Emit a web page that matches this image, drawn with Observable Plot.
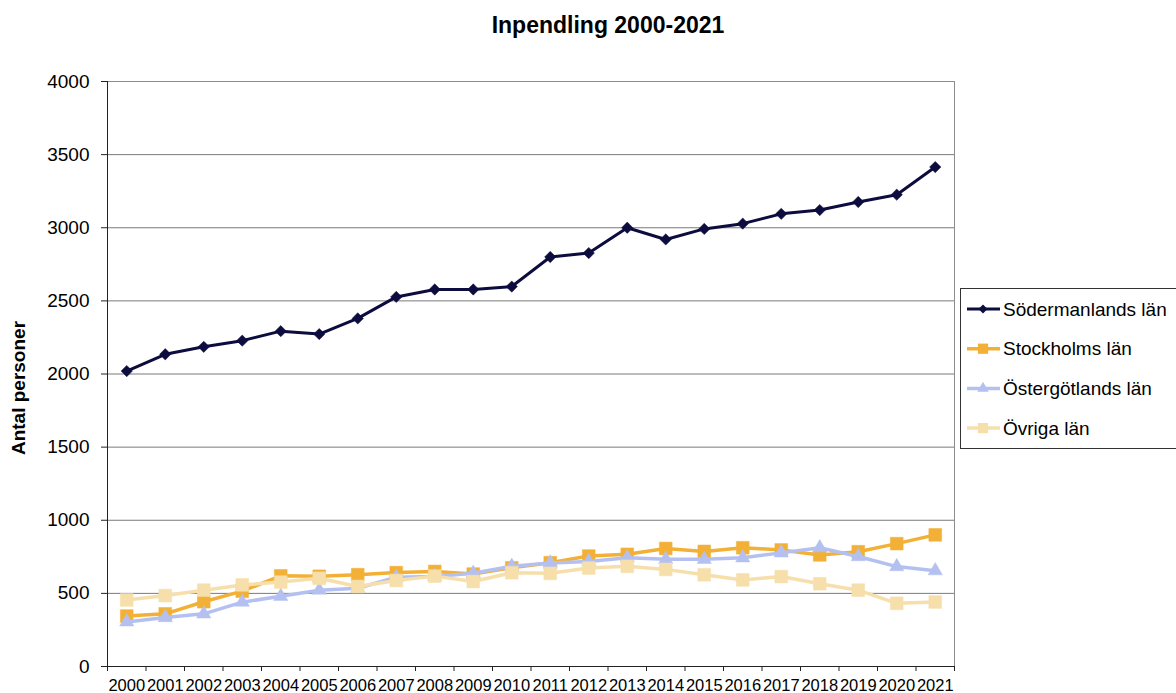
<!DOCTYPE html>
<html>
<head>
<meta charset="utf-8">
<script src="https://cdn.jsdelivr.net/npm/d3@7"></script>
<script src="https://cdn.jsdelivr.net/npm/@observablehq/plot@0.6"></script>
<style>
  body { margin: 0; background: #fff; font-family: "Liberation Sans", Arial, sans-serif; }
  #wrap { position: relative; width: 1176px; height: 693px; overflow: hidden; background: #fff; }
  #wrap > svg { position: absolute; left: 0; top: 0; }
  #overlay { pointer-events: none; }
</style>
</head>
<body>
<div id="wrap"></div>
<script>
// ---- Data ----
const title = "Inpendling 2000-2021";
const yLabel = "Antal personer";
const years = [2000, 2001, 2002, 2003, 2004, 2005, 2006, 2007, 2008, 2009, 2010,
               2011, 2012, 2013, 2014, 2015, 2016, 2017, 2018, 2019, 2020, 2021];
const yTicks = [0, 500, 1000, 1500, 2000, 2500, 3000, 3500, 4000];

const seriesNames = ["Södermanlands län", "Stockholms län", "Östergötlands län", "Övriga län"];
const sodermanland = [2020, 2135, 2186, 2228, 2293, 2273, 2380, 2527, 2578, 2578, 2598,
                      2800, 2827, 3000, 2920, 2992, 3028, 3095, 3121, 3176, 3226, 3415];
const stockholm    = [345, 360, 443, 515, 620, 617, 628, 642, 650, 632, 675,
                      710, 755, 767, 807, 787, 812, 797, 763, 785, 840, 900];
const ostergotland = [305, 335, 360, 440, 480, 522, 535, 610, 615, 637, 685,
                      708, 718, 743, 733, 733, 743, 777, 812, 752, 683, 655];
const ovriga       = [455, 485, 522, 558, 577, 603, 547, 588, 618, 581, 641,
                      637, 673, 685, 664, 627, 592, 615, 566, 522, 432, 441];

const seriesValues = [sodermanland, stockholm, ostergotland, ovriga];
const seriesColors = ["#0c0c3e", "#f2b136", "#b4c1f0", "#f6dfab"];
const seriesSymbols = ["diamond2", "square", "triangle", "square"];
const seriesR = [5.1, 7.2, 5.3, 7.2];
const seriesWidth = [3, 3.5, 3.5, 3.5];

const data = seriesNames.flatMap((name, k) =>
  years.map((year, i) => ({ year, value: seriesValues[k][i], series: name })));

const bounds = [...years.map(y => y - 0.5), years[years.length - 1] + 0.5];

const W = 1176, H = 693;
const font = "'Liberation Sans', Arial, sans-serif";

const seriesMarks = seriesNames.flatMap((name, k) => {
  const d = data.filter(r => r.series === name);
  return [
    Plot.line(d, { x: "year", y: "value", stroke: seriesColors[k], strokeWidth: seriesWidth[k], strokeLinejoin: "round" }),
    Plot.dot(d, { x: "year", y: "value", symbol: seriesSymbols[k], r: seriesR[k], fill: seriesColors[k], stroke: seriesColors[k], strokeWidth: 0.5 })
  ];
});

const chart = Plot.plot({
  width: W,
  height: H,
  marginTop: 81,
  marginBottom: 27,
  marginLeft: 107,
  marginRight: 222,
  style: { fontFamily: font, color: "#000", background: "transparent" },
  x: { domain: [bounds[0], bounds[bounds.length - 1]] },
  y: { domain: [0, 4000] },
  marks: [
    Plot.gridY(yTicks, { stroke: "#7a7a7a", strokeOpacity: 1, strokeWidth: 1 }),
    Plot.frame({ stroke: "#8c8c8c" }),
    Plot.ruleY([0], { stroke: "#222" }),
    Plot.ruleX([bounds[0]], { stroke: "#222" }),
    Plot.axisY({ ticks: yTicks, tickSize: 6, tickPadding: 12, fontSize: 19, label: null, stroke: "#222", tickFormat: d => String(d) }),
    Plot.axisX({ ticks: bounds, tickSize: 5, tickFormat: () => "", label: null, stroke: "#222" }),
    Plot.axisX({ ticks: years, tickSize: 0, tickPadding: 13, fontSize: 16.5, label: null, tickFormat: d => String(d) }),
    ...seriesMarks
  ]
});
document.getElementById("wrap").appendChild(chart);

// ---- Overlay: title, y label, legend ----
const svg = d3.select("#wrap").append("svg")
  .attr("id", "overlay").attr("width", W).attr("height", H)
  .attr("font-family", font);

svg.append("text")
  .attr("x", 608).attr("y", 32.5)
  .attr("text-anchor", "middle").attr("font-size", 23).attr("font-weight", "bold")
  .text(title);

svg.append("text")
  .attr("transform", "translate(25,388) rotate(-90)")
  .attr("text-anchor", "middle").attr("font-size", 19).attr("font-weight", "bold")
  .text(yLabel);

const symbolMap = { diamond2: d3.symbolDiamond2, square: d3.symbolSquare, triangle: d3.symbolTriangle };
const lg = svg.append("g").attr("transform", "translate(960,288)");
lg.append("rect").attr("x", 0.5).attr("y", 0.5).attr("width", 250).attr("height", 160)
  .attr("fill", "#fff").attr("stroke", "#333");
seriesNames.forEach((name, k) => {
  const cy = 21 + k * 39.7;
  lg.append("line").attr("x1", 7).attr("x2", 40).attr("y1", cy).attr("y2", cy)
    .attr("stroke", seriesColors[k]).attr("stroke-width", seriesWidth[k]);
  const r = seriesR[k] * 0.8;
  lg.append("path")
    .attr("d", d3.symbol(symbolMap[seriesSymbols[k]], Math.PI * r * r)())
    .attr("transform", `translate(23,${cy})`)
    .attr("fill", seriesColors[k]);
  lg.append("text").attr("x", 43).attr("y", cy).attr("dy", "0.35em")
    .attr("font-size", 19).text(name);
});
</script>
</body>
</html>
